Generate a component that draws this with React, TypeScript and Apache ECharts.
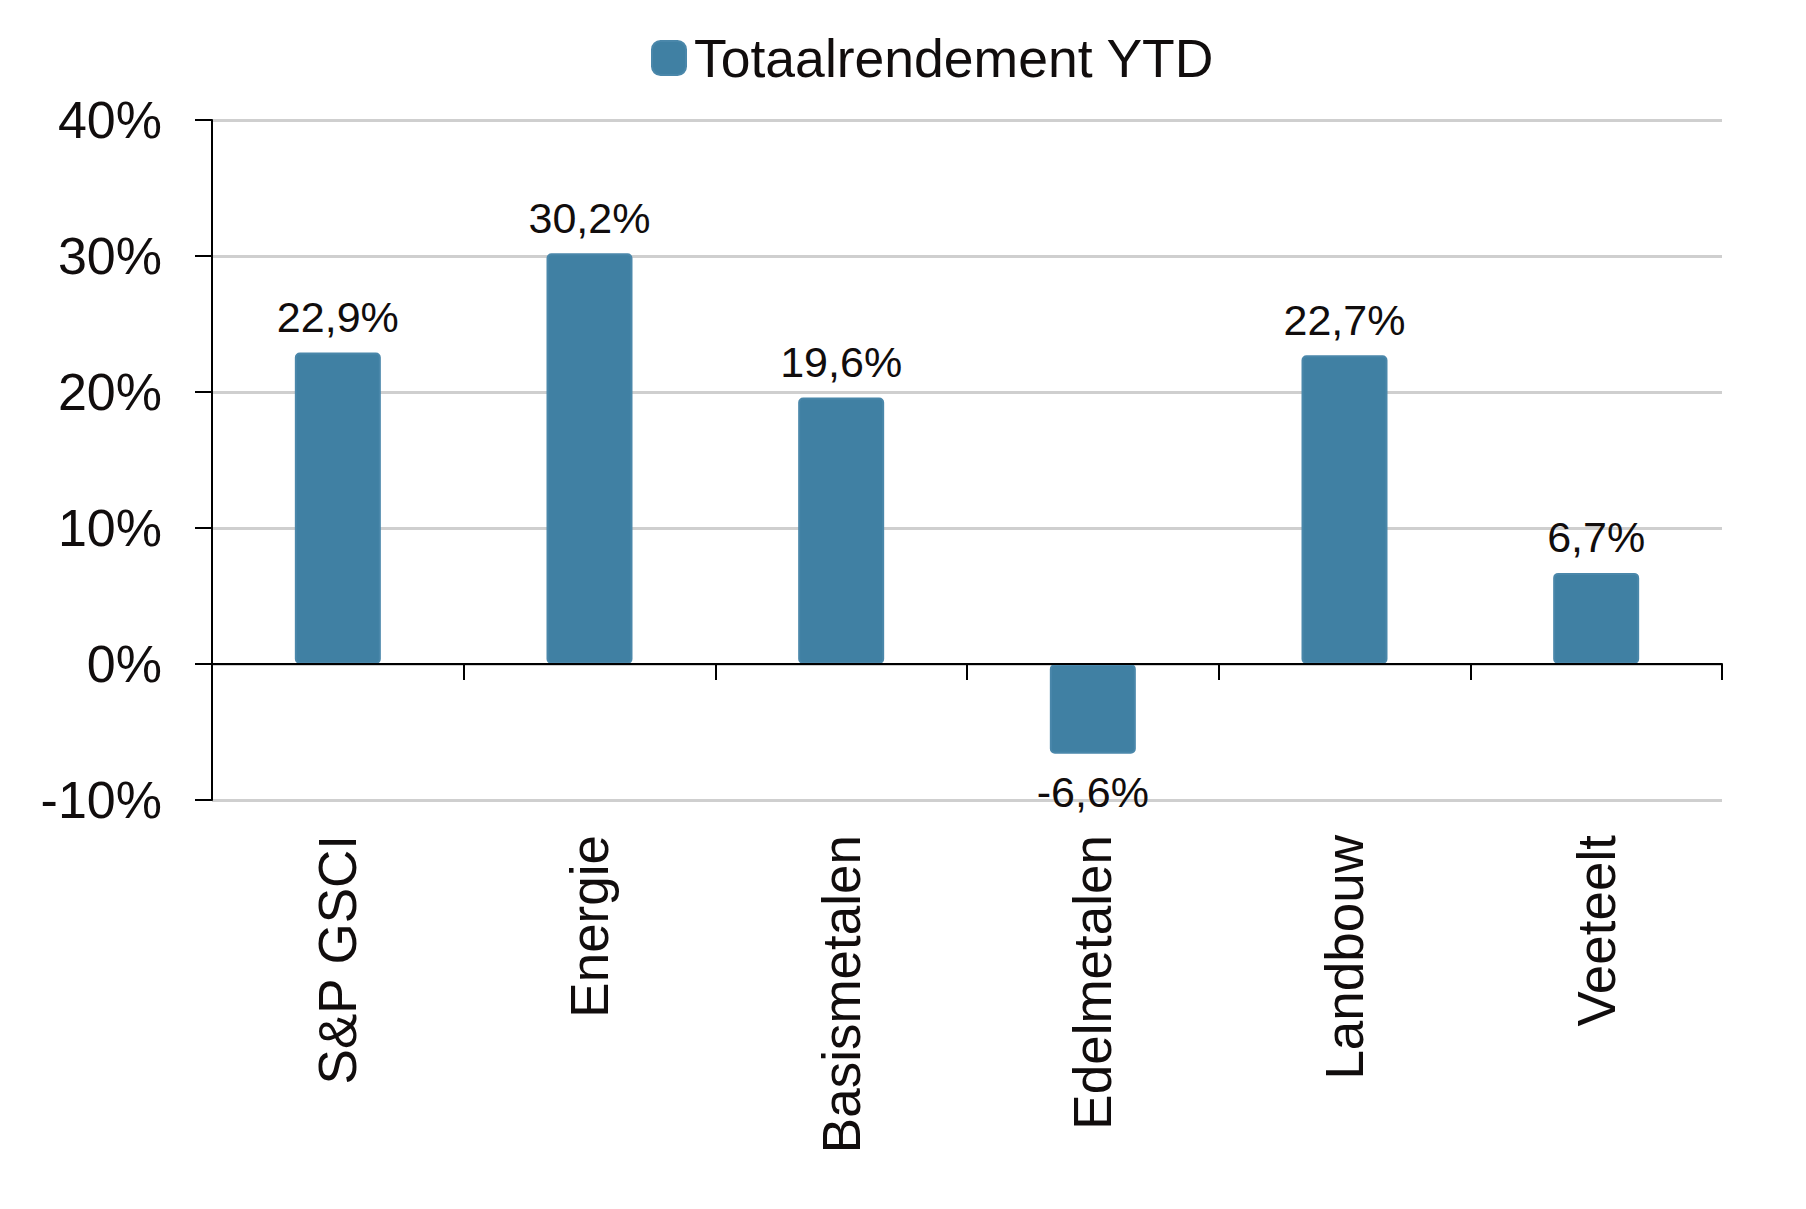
import React, { useEffect, useRef } from "react";
import * as echarts from "echarts";

const categories = ["S&P GSCI", "Energie", "Basismetalen", "Edelmetalen", "Landbouw", "Veeteelt"];
const values = [22.9, 30.2, 19.6, -6.6, 22.7, 6.7];
const seriesName = "Totaalrendement YTD";
const yMin = -10;
const yMax = 40;
const yInterval = 10;

const FONT = "'Liberation Sans', Arial, Helvetica, sans-serif";
const TEXT = "#110d0d";
const BAR = "#4080a3";

export default function App() {
  const ref = useRef<HTMLDivElement>(null);
  useEffect(() => {
    if (!ref.current) return;
    const chart = echarts.init(ref.current, null, { renderer: "svg" });
    chart.setOption({
      animation: false,
      backgroundColor: "#ffffff",
      textStyle: { fontFamily: FONT },
      legend: {
        left: 651,
        top: 31,
        padding: 0,
        itemWidth: 34,
        itemHeight: 34,
        icon: "roundRect",
        itemGap: 10,
        data: [seriesName],
        textStyle: {
          fontFamily: FONT,
          fontSize: 53.5,
          color: TEXT,
          padding: [0, 0, 0, 3],
        },
      },
      grid: {
        left: 212,
        right: 84,
        top: 120,
        bottom: 409,
        containLabel: false,
        outerBoundsMode: "none",
      },
      xAxis: [
        {
          type: "category",
          data: categories,
          z: 10,
          axisLine: { show: true, onZero: true, lineStyle: { color: "#000", width: 2 } },
          axisTick: { show: true, length: 16, lineStyle: { color: "#000", width: 2 } },
          axisLabel: { show: false },
          splitLine: { show: false },
        },
        {
          type: "category",
          data: categories,
          position: "bottom",
          axisLine: { show: false, onZero: false },
          axisTick: { show: false },
          axisLabel: {
            rotate: 90,
            margin: 35,
            fontFamily: FONT,
            fontSize: 53,
            color: TEXT,
            interval: 0,
          },
          splitLine: { show: false },
        },
      ],
      yAxis: {
        type: "value",
        min: yMin,
        max: yMax,
        interval: yInterval,
        axisLine: { show: true, lineStyle: { color: "#000", width: 2 } },
        axisTick: { show: true, length: 17, lineStyle: { color: "#000", width: 2 } },
        axisLabel: {
          formatter: "{value}%",
          margin: 50,
          fontFamily: FONT,
          fontSize: 52,
          color: TEXT,
        },
        splitLine: { show: true, lineStyle: { color: "#cfcfcf", width: 3 } },
      },
      series: [
        {
          name: seriesName,
          type: "bar",
          xAxisIndex: 0,
          barWidth: 86,
          data: values.map((v) => ({
            value: v,
            label: v < 0 ? { position: "bottom", distance: 17 } : { position: "top", distance: 14 },
          })),
          itemStyle: {
            color: BAR,
            borderColor: "#4a87aa",
            borderWidth: 2,
            borderRadius: 4,
          },
          label: {
            show: true,
            fontFamily: FONT,
            fontSize: 43,
            color: TEXT,
            formatter: (p: any) => String(p.value).replace(".", ",") + "%",
          },
        },
      ],
    });
    return () => chart.dispose();
  }, []);
  return (
    <div
      ref={ref}
      style={{ position: "fixed", left: 0, top: 0, width: 1806, height: 1209, background: "#fff" }}
    />
  );
}
